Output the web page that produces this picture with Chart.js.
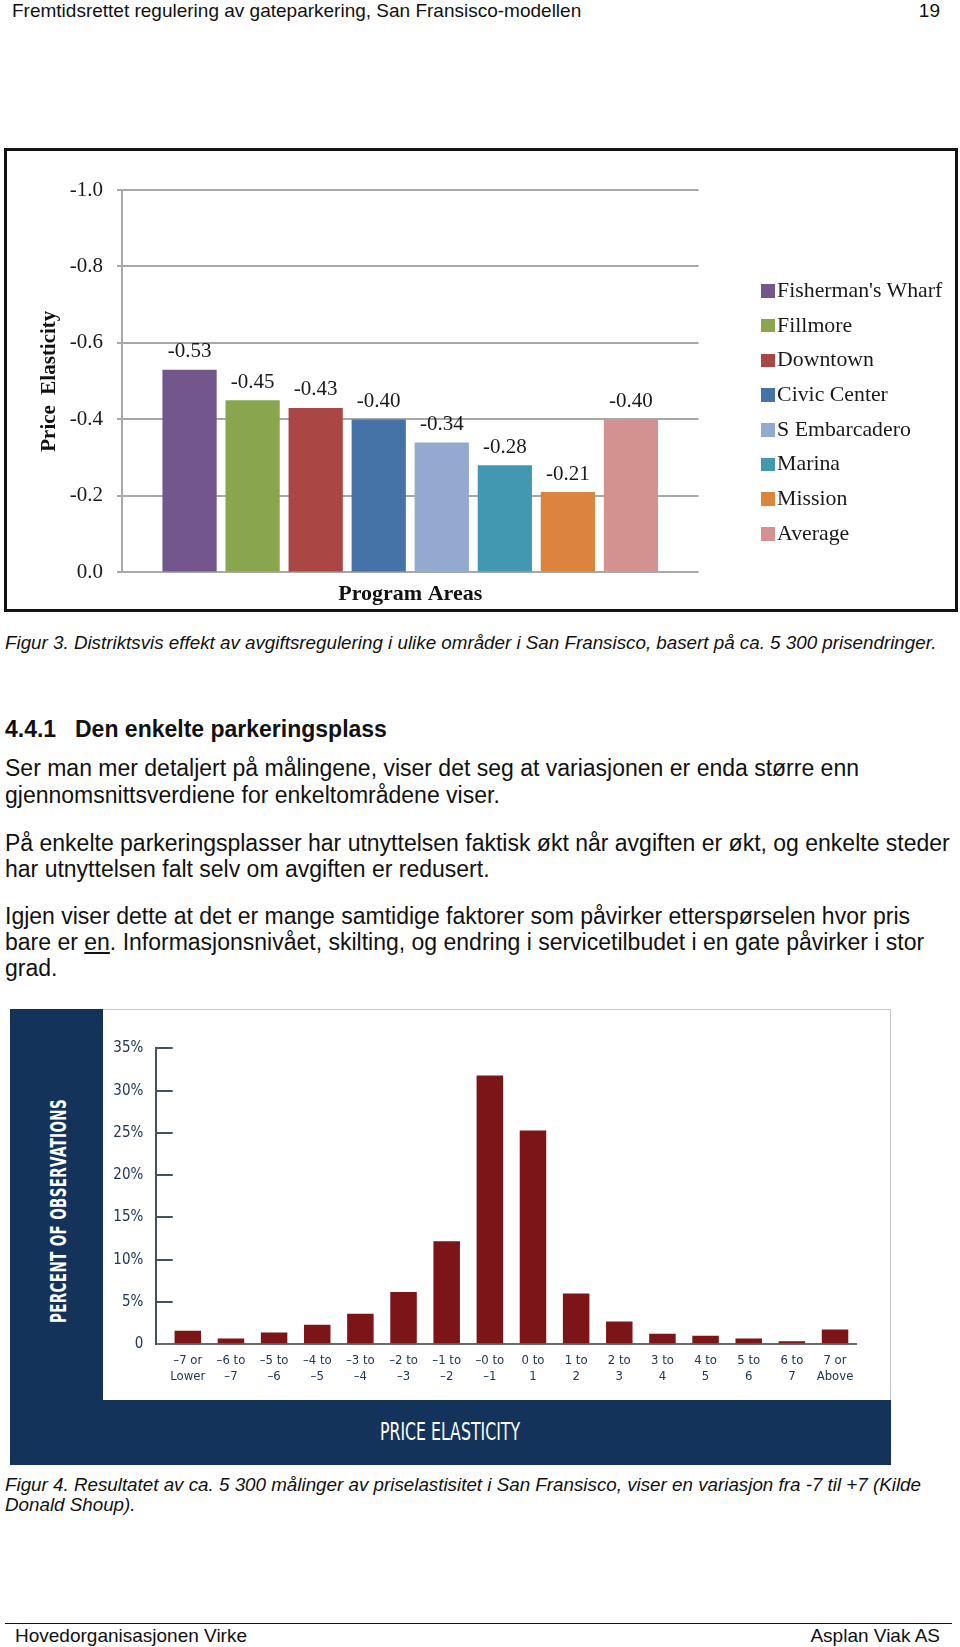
<!DOCTYPE html>
<html>
<head>
<meta charset="utf-8">
<script src="https://cdn.jsdelivr.net/npm/chart.js@4.4.1/dist/chart.umd.min.js"></script>
<style>
  body { margin: 0; width: 960px; height: 1647px; position: relative; overflow: hidden; background: #fff;
         font-family: "Liberation Sans", Arial, sans-serif; color: #111; }
  .ln { position: absolute; left: 5px; white-space: nowrap; line-height: 1; }
  .body { font-size: 23px; }
  .cap { font-size: 18.8px; font-style: italic; }
  .hdr { font-size: 19px; }
  #frame1 { position: absolute; left: 4px; top: 148px; width: 954px; height: 464px; box-sizing: border-box; border: 3px solid #111; }
  #areaChart { position: absolute; left: 0; top: 0; }
  #areaLegend { position: absolute; left: 761px; top: 273px; font-family: "Liberation Serif", "Times New Roman", serif;
                font-size: 21.8px; color: #1a1a1a; }
  .lg-item { height: 34.7px; line-height: 34.7px; white-space: nowrap; }
  .lg-box { display: inline-block; width: 13.6px; height: 13.6px; margin-right: 2.5px; vertical-align: middle; position: relative; top: -1px; }
  #frame2 { position: absolute; left: 10px; top: 1009px; width: 881px; height: 456px; background: #14335b; }
  #white2 { position: absolute; left: 92.5px; top: 0; width: 788.5px; height: 390.5px; background: #fff;
            box-sizing: border-box; border-top: 1px solid #c4c8cc; border-right: 1px solid #c4c8cc; }
  #obsChart { position: absolute; left: 103px; top: 1010px; }
  .navyTitle { position: absolute; color: #fff; white-space: nowrap; line-height: 1;
               font-family: "Liberation Sans Narrow", "DejaVu Sans Condensed", "Liberation Sans", sans-serif; }
  #obsYTitle { left: 59px; top: 1211px; font-size: 21px; font-weight: bold; letter-spacing: 0.5px;
               transform: translate(-50%, -50%) rotate(-90deg) scaleX(0.715); }
  #obsXTitle { left: 449.5px; top: 1431px; font-size: 25px;
               transform: translate(-50%, -50%) scaleX(0.70); }
  #footLine { position: absolute; left: 5px; top: 1622.5px; width: 947px; height: 1.5px; background: #111; }
</style>
</head>
<body>

<div class="ln hdr" style="left:12px; top:1px;">Fremtidsrettet regulering av gateparkering, San Fransisco-modellen</div>
<div class="ln hdr" style="left:auto; right:20px; top:1px;">19</div>

<div id="frame1"><canvas id="areaChart" width="948" height="458"></canvas></div>
<div id="areaLegend"></div>

<div class="ln cap" style="top:634px;">Figur 3. Distriktsvis effekt av avgiftsregulering i ulike områder i San Fransisco, basert på ca. 5 300 prisendringer.</div>

<div class="ln body" style="top:718px; font-weight:bold;">4.4.1</div>
<div class="ln body" style="left:75px; top:718px; font-weight:bold;">Den enkelte parkeringsplass</div>

<div class="ln body" style="top:757px;">Ser man mer detaljert på målingene, viser det seg at variasjonen er enda større enn</div>
<div class="ln body" style="top:784px;">gjennomsnittsverdiene for enkeltområdene viser.</div>

<div class="ln body" style="top:832px;">På enkelte parkeringsplasser har utnyttelsen faktisk økt når avgiften er økt, og enkelte steder</div>
<div class="ln body" style="top:858px;">har utnyttelsen falt selv om avgiften er redusert.</div>

<div class="ln body" style="top:905px;">Igjen viser dette at det er mange samtidige faktorer som påvirker etterspørselen hvor pris</div>
<div class="ln body" style="top:931px;">bare er <u>en</u>. Informasjonsnivået, skilting, og endring i servicetilbudet i en gate påvirker i stor</div>
<div class="ln body" style="top:957px;">grad.</div>

<div id="frame2"><div id="white2"></div></div>
<canvas id="obsChart" width="787" height="389"></canvas>
<div id="obsYTitle" class="navyTitle">PERCENT OF OBSERVATIONS</div>
<div id="obsXTitle" class="navyTitle">PRICE ELASTICITY</div>

<div class="ln cap" style="top:1476px;">Figur 4. Resultatet av ca. 5 300 målinger av priselastisitet i San Fransisco, viser en variasjon fra -7 til +7 (Kilde</div>
<div class="ln cap" style="top:1495.5px;">Donald Shoup).</div>

<div id="footLine"></div>
<div class="ln hdr" style="left:15px; top:1626px;">Hovedorganisasjonen Virke</div>
<div class="ln hdr" style="left:auto; right:20px; top:1626px;">Asplan Viak AS</div>

<script>
// Figur 3 - price elasticity per program area
const areaNames = ["Fisherman's Wharf", "Fillmore", "Downtown", "Civic Center", "S Embarcadero", "Marina", "Mission", "Average"];
const elasticity = [-0.53, -0.45, -0.43, -0.40, -0.34, -0.28, -0.21, -0.40];
const areaColors = ["#72568c", "#89a54e", "#aa4643", "#4572a7", "#93a9cf", "#4198b0", "#db843d", "#d39190"];
const elasticityTicks = [-1.0, -0.8, -0.6, -0.4, -0.2, 0.0];

// Figur 4 - distribution of observed elasticities
const obsBins = [["–7 or", "Lower"], ["–6 to", "–7"], ["–5 to", "–6"], ["–4 to", "–5"], ["–3 to", "–4"],
  ["–2 to", "–3"], ["–1 to", "–2"], ["–0 to", "–1"], ["0 to", "1"], ["1 to", "2"], ["2 to", "3"],
  ["3 to", "4"], ["4 to", "5"], ["5 to", "6"], ["6 to", "7"], ["7 or", "Above"]];
const obsPercent = [1.6, 0.7, 1.4, 2.3, 3.6, 6.2, 12.2, 31.8, 25.3, 6.0, 2.7, 1.25, 1.0, 0.7, 0.35, 1.75];
const percentTicks = [0, 5, 10, 15, 20, 25, 30, 35];

const serif = '"Liberation Serif", "Times New Roman", serif';
const narrow = '"Liberation Sans Narrow", "DejaVu Sans Condensed", "Liberation Sans", sans-serif';

// value labels above the bars
const barValueLabels = {
  id: "barValueLabels",
  afterDatasetsDraw(chart) {
    const ctx = chart.ctx;
    ctx.save();
    ctx.font = "21px " + serif;
    ctx.fillStyle = "#1a1a1a";
    ctx.textAlign = "center";
    ctx.textBaseline = "middle";
    chart.data.datasets.forEach((ds, i) => {
      chart.getDatasetMeta(i).data.forEach((bar, j) => {
        ctx.fillText(ds.data[j].toFixed(2), bar.x, bar.y - 18);
      });
    });
    ctx.restore();
  }
};

// legend as html, built from the chart's own legend items
const htmlLegend = {
  id: "htmlLegend",
  afterUpdate(chart) {
    const box = document.getElementById("areaLegend");
    box.innerHTML = "";
    chart.options.plugins.legend.labels.generateLabels(chart).forEach(item => {
      const row = document.createElement("div");
      row.className = "lg-item";
      const swatch = document.createElement("span");
      swatch.className = "lg-box";
      swatch.style.background = item.fillStyle;
      row.appendChild(swatch);
      row.appendChild(document.createTextNode(item.text));
      box.appendChild(row);
    });
  }
};

new Chart(document.getElementById("areaChart"), {
  type: "bar",
  data: {
    labels: ["Program Areas"],
    datasets: areaNames.map((name, i) => ({
      label: name,
      data: [elasticity[i]],
      backgroundColor: areaColors[i],
      categoryPercentage: 0.875,
      barPercentage: 0.86
    }))
  },
  options: {
    responsive: false,
    animation: false,
    layout: { padding: { top: 39, right: 256.5, left: 0, bottom: 0 } },
    plugins: { legend: { display: false }, tooltip: { enabled: false } },
    scales: {
      x: {
        grid: { display: false },
        border: { display: false },
        ticks: { display: false },
        title: { display: true, text: "Program Areas", color: "#111",
                 font: { family: serif, size: 22, weight: "bold" }, padding: { top: 0, bottom: 1 } },
        afterFit: s => { s.height = 36.6; }
      },
      y: {
        reverse: true,
        min: -1,
        max: 0,
        afterBuildTicks: s => { s.ticks = elasticityTicks.map(v => ({ value: v })); },
        ticks: { callback: v => v.toFixed(1), color: "#1a1a1a", font: { family: serif, size: 21 }, padding: 14 },
        grid: { color: "#a8a8a8", lineWidth: 2, tickLength: 5 },
        border: { color: "#a8a8a8", width: 2 },
        title: { display: true, text: "Price  Elasticity", color: "#111",
                 font: { family: serif, size: 21, weight: "bold" }, padding: { top: 29.5, bottom: 0 } },
        afterFit: s => { s.width = 115; }
      }
    }
  },
  plugins: [barValueLabels, htmlLegend]
});

new Chart(document.getElementById("obsChart"), {
  type: "bar",
  data: {
    datasets: [{
      data: obsPercent.map((v, i) => ({ x: i, y: v })),
      backgroundColor: "#7b1517",
      categoryPercentage: 1,
      barPercentage: 0.614
    }]
  },
  options: {
    responsive: false,
    animation: false,
    layout: { padding: { top: 36.7, right: 33.4, left: 0, bottom: 0 } },
    plugins: { legend: { display: false }, tooltip: { enabled: false } },
    scales: {
      x: {
        type: "linear",
        min: -0.744,
        max: 15.5,
        offset: false,
        afterBuildTicks: s => { s.ticks = obsBins.map((b, i) => ({ value: i })); },
        ticks: { callback: v => obsBins[v], autoSkip: false, maxRotation: 0, padding: 8, color: "#22365a",
                 font: { family: narrow, size: 13, lineHeight: 1.27 } },
        grid: { display: false, drawTicks: false },
        border: { color: "#6a6a6a", width: 2 },
        afterFit: s => { s.height = 54.7; }
      },
      y: {
        min: 0,
        max: 35,
        afterBuildTicks: s => { s.ticks = percentTicks.map(v => ({ value: v })); },
        ticks: { callback: v => v === 0 ? "0" : v + "%", padding: 29.4, color: "#22365a",
                 font: { family: narrow, size: 15 } },
        grid: { drawOnChartArea: false, tickLength: -17, color: "#46505e", lineWidth: 2 },
        border: { color: "#46505e", width: 2 },
        afterFit: s => { s.width = 52.7; }
      }
    }
  }
});
</script>
</body>
</html>
